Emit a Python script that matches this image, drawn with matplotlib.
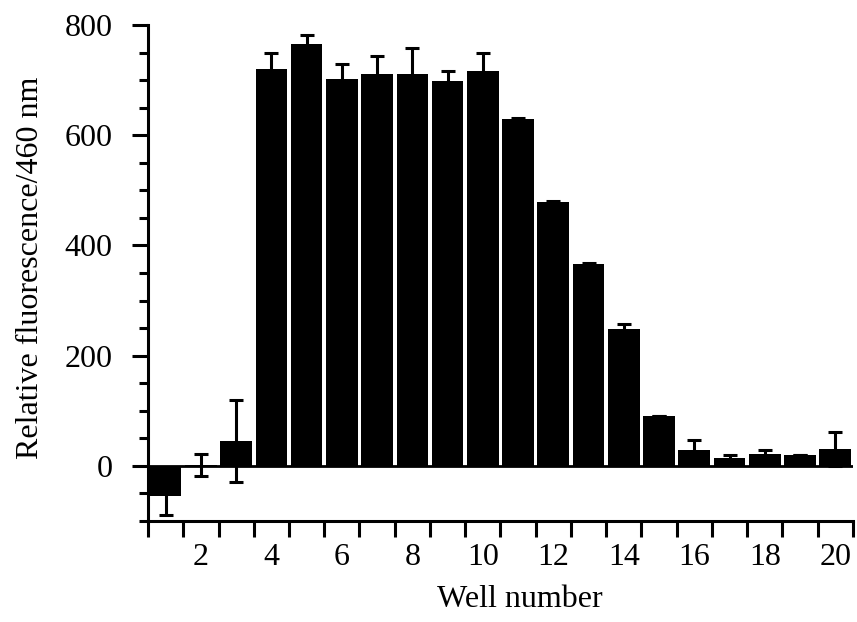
import matplotlib
matplotlib.use("Agg")
import matplotlib.pyplot as plt
import numpy as np
from matplotlib.ticker import MultipleLocator, FixedLocator

wells = list(range(1, 21))
values = [-55, 1, 45, 721, 765, 702, 712, 712, 698, 717,
          629, 479, 366, 248, 91, 29, 15, 21, 20, 31]
errors = [35, 20, 75, 28, 17, 28, 32, 47, 18, 33,
          3, 2, 3, 10, 0, 18, 4, 7, 0, 31]
xtick_labels = [str(w) for w in range(2, 21, 2)]
yticks = [0, 200, 400, 600, 800]

plt.rcParams['font.family'] = ['Liberation Serif', 'DejaVu Serif']

fig = plt.figure(figsize=(8.57, 6.22), dpi=100)
ax = fig.add_axes([0.1727, 0.1624, 0.8226, 0.7974])

ax.bar(wells, values, width=0.9, color='black', edgecolor='black', linewidth=0, zorder=2)
ax.errorbar(wells, values, yerr=errors, fmt='none', ecolor='black',
            elinewidth=2.2, capsize=5, capthick=2.2, zorder=3)
ax.axhline(0, color='black', linewidth=2.0, zorder=1)

ax.set_xlim(0.5, 20.5)
ax.set_ylim(-100, 800)

for s in ['top', 'right']:
    ax.spines[s].set_visible(False)
for s in ['left', 'bottom']:
    ax.spines[s].set_linewidth(2.2)

# x axis: tick marks at bar boundaries, labels at even wells
ax.xaxis.set_major_locator(FixedLocator(list(range(2, 21, 2))))
ax.set_xticklabels(xtick_labels)
ax.xaxis.set_minor_locator(FixedLocator(list(np.arange(0.5, 20.6, 1.0))))
ax.tick_params(axis='x', which='major', length=0, pad=16, labelsize=23)
ax.tick_params(axis='x', which='minor', length=11.5, width=2.2, direction='out')

# y axis
ax.set_yticks(yticks)
ax.yaxis.set_minor_locator(MultipleLocator(50))
ax.tick_params(axis='y', which='major', length=11.5, width=2.2, pad=14, labelsize=23)
ax.tick_params(axis='y', which='minor', length=6.5, width=2.2)

ax.set_xlabel('Well number', fontsize=23)
ax.xaxis.set_label_coords(0.528, -0.159)
ax.xaxis.label.set_va('center')
ax.set_ylabel('Relative fluorescence/460 nm', fontsize=23)
ax.yaxis.set_label_coords(-0.167, 0.51)
ax.yaxis.label.set_va('center')

fig.savefig('out.png', dpi=100)
